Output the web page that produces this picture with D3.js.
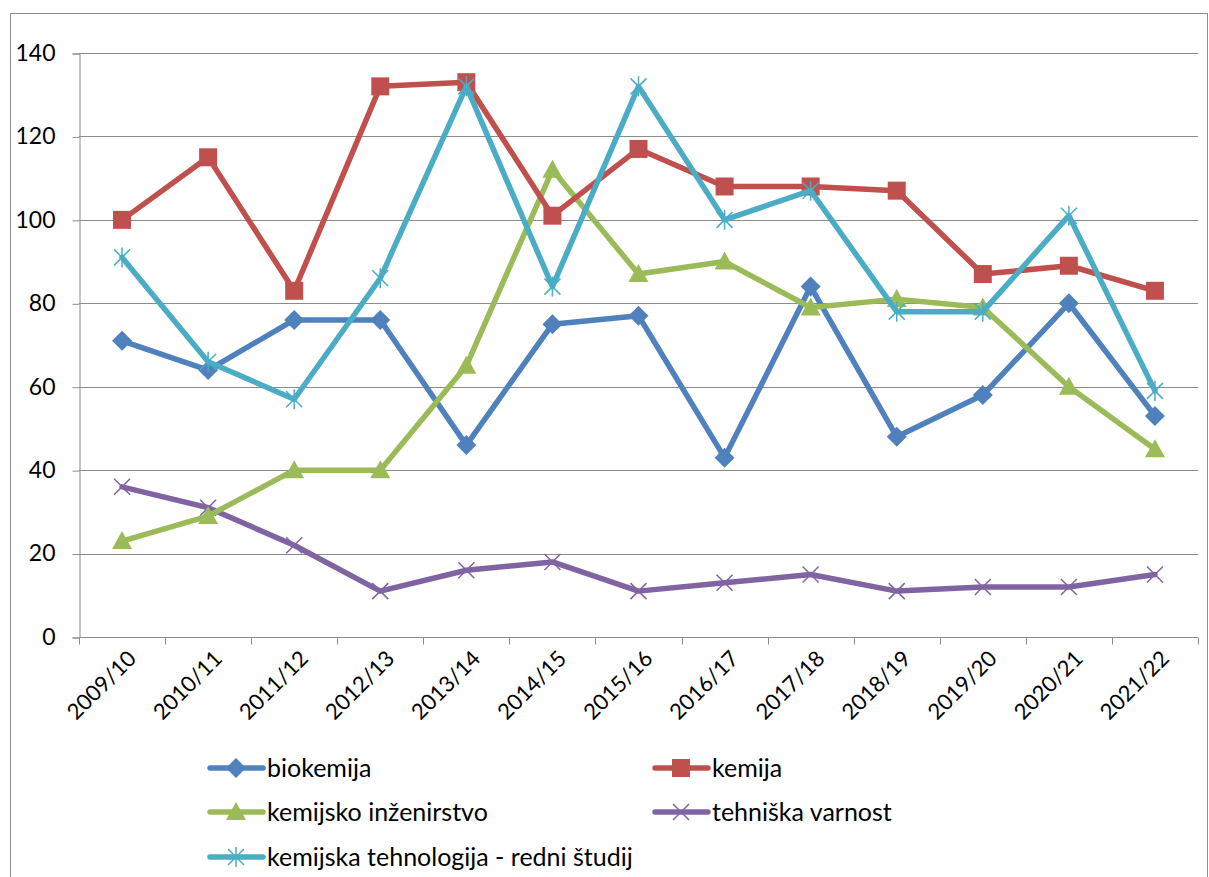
<!DOCTYPE html>
<html>
<meta charset="utf-8">
<title>Vpis</title>
<style>
body { margin: 0; background: #fff; }
text { font-family: Lato, "Open Sans", sans-serif; fill: #000; }
</style>
<body>
<svg id="chart" width="1209" height="877"></svg>
<script src="https://d3js.org/d3.v7.min.js"></script>
<script>
var years = ["2009/10","2010/11","2011/12","2012/13","2013/14","2014/15","2015/16","2016/17","2017/18","2018/19","2019/20","2020/21","2021/22"];
var biokemija = [71,64,76,76,46,75,77,43,84,48,58,80,53];
var kemija = [100,115,83,132,133,101,117,108,108,107,87,89,83];
var inzenirstvo = [23,29,40,40,65,112,87,90,79,81,79,60,45];
var varnost = [36,31,22,11,16,18,11,13,15,11,12,12,15];
var tehnologija = [91,66,57,86,132,84,132,100,107,78,78,101,59];
var yTicks = [0,20,40,60,80,100,120,140];

var series = [
  {name: "biokemija", values: biokemija, color: "#4F81BD", marker: "diamond"},
  {name: "kemija", values: kemija, color: "#C0504D", marker: "square"},
  {name: "kemijsko inženirstvo", values: inzenirstvo, color: "#9BBB59", marker: "triangle"},
  {name: "tehniška varnost", values: varnost, color: "#8064A2", marker: "cross"},
  {name: "kemijska tehnologija - redni študij", values: tehnologija, color: "#4BACC6", marker: "star"}
];
// draw order: purple at the back, teal on top
var drawOrder = [3, 0, 2, 1, 4];

var svg = d3.select("#chart");
var plotL = 79, plotR = 1198, plotT = 53, plotB = 637;

// outer chart border
svg.append("rect")
  .attr("x", 10.5).attr("y", 13.5)
  .attr("width", 1197).attr("height", 880)
  .attr("fill", "none").attr("stroke", "#8c8c8c").attr("stroke-width", 1);

var x = d3.scaleBand().domain(years).range([plotL, plotR]).padding(0);
var y = d3.scaleLinear().domain([0, 140]).range([plotB, plotT]);
var cx = function(i){ return x(years[i]) + x.bandwidth()/2; };

// gridlines
svg.append("g").selectAll("line").data(yTicks.filter(function(d){ return d > 0; }))
  .enter().append("line")
  .attr("x1", plotL).attr("x2", plotR)
  .attr("y1", function(d){ return Math.round(y(d)) + 0.5; })
  .attr("y2", function(d){ return Math.round(y(d)) + 0.5; })
  .attr("stroke", "#8c8c8c").attr("stroke-width", 1);

// y axis
var yAxis = svg.append("g")
  .attr("transform", "translate(" + (plotL + 0.5) + ",0.5)")
  .call(d3.axisLeft(y).tickValues(yTicks).tickSize(7).tickPadding(17));
yAxis.selectAll("path, line").attr("stroke", "#8c8c8c");
yAxis.selectAll("text").style("font-size", "23px").attr("dy", "0.3em")
  .style("font-family", "Lato, sans-serif");

// x axis with ticks on band boundaries
var xg = svg.append("g").attr("transform", "translate(0," + (Math.round(plotB) + 0.5) + ")");
xg.append("line").attr("x1", plotL).attr("x2", plotR).attr("stroke", "#8c8c8c");
xg.selectAll("line.tk").data(years.concat(["end"])).enter().append("line")
  .attr("class", "tk")
  .attr("x1", function(d, i){ return Math.round(plotL + i * x.bandwidth()) + 0.5; })
  .attr("x2", function(d, i){ return Math.round(plotL + i * x.bandwidth()) + 0.5; })
  .attr("y1", 0).attr("y2", 7).attr("stroke", "#8c8c8c");
xg.selectAll("text").data(years).enter().append("text")
  .attr("transform", function(d, i){ return "translate(" + (cx(i) + 10) + ",17) rotate(-45)"; })
  .attr("text-anchor", "end")
  .attr("dy", "0.35em")
  .style("font-size", "22px")
  .text(function(d){ return d; });

function marker(g, type, color, px, py) {
  if (type === "diamond") {
    g.append("path").attr("d", "M" + px + "," + (py - 10) + "L" + (px + 10) + "," + py + "L" + px + "," + (py + 10) + "L" + (px - 10) + "," + py + "Z")
      .attr("fill", color);
  } else if (type === "square") {
    g.append("rect").attr("x", px - 9).attr("y", py - 9).attr("width", 18).attr("height", 18)
      .attr("fill", color);
  } else if (type === "triangle") {
    g.append("path").attr("d", "M" + px + "," + (py - 10) + "L" + (px + 10) + "," + (py + 8) + "L" + (px - 10) + "," + (py + 8) + "Z")
      .attr("fill", color);
  } else if (type === "cross") {
    g.append("path").attr("d", "M" + (px - 8) + "," + (py - 8) + "L" + (px + 8) + "," + (py + 8) + "M" + (px + 8) + "," + (py - 8) + "L" + (px - 8) + "," + (py + 8))
      .attr("stroke", color).attr("stroke-width", 1.5).attr("fill", "none");
  } else if (type === "star") {
    g.append("path").attr("d", "M" + (px - 8) + "," + (py - 8) + "L" + (px + 8) + "," + (py + 8) + "M" + (px + 8) + "," + (py - 8) + "L" + (px - 8) + "," + (py + 8) + "M" + px + "," + (py - 10) + "L" + px + "," + (py + 10))
      .attr("stroke", color).attr("stroke-width", 1.5).attr("fill", "none");
  }
}

var line = d3.line()
  .x(function(d, i){ return cx(i); })
  .y(function(d){ return y(d); });

drawOrder.forEach(function(k){
  var s = series[k];
  var g = svg.append("g");
  g.append("path").attr("d", line(s.values))
    .attr("fill", "none").attr("stroke", s.color)
    .attr("stroke-width", 5.5).attr("stroke-linejoin", "round").attr("stroke-linecap", "round");
  s.values.forEach(function(v, i){ marker(g, s.marker, s.color, cx(i), y(v)); });
});

// legend
var legendPos = [[210, 768], [655, 768], [210, 812], [655, 812], [210, 857]];
series.forEach(function(s, k){
  var p = legendPos[k];
  var g = svg.append("g");
  g.append("line").attr("x1", p[0]).attr("x2", p[0] + 53).attr("y1", p[1]).attr("y2", p[1])
    .attr("stroke", s.color).attr("stroke-width", 5.5).attr("stroke-linecap", "round");
  marker(g, s.marker, s.color, p[0] + 26, p[1]);
  g.append("text").attr("x", p[0] + 57).attr("y", p[1]).attr("dy", "0.35em")
    .style("font-size", "25px").text(s.name);
});
</script>
</body>
</html>
